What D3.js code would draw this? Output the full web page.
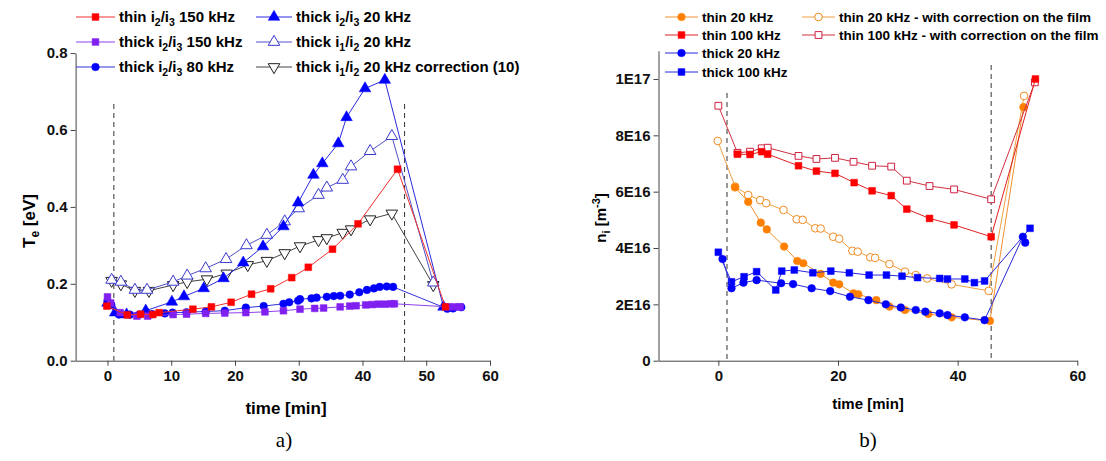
<!DOCTYPE html>
<meta charset="utf-8">
<head>
  <title>Te and ni vs time</title>
</head>
<style>
  body { margin: 0; background: #fff; }
  text { font-family: "Liberation Sans", Arial, sans-serif; font-weight: bold; }
</style>
<body>
<svg width="1106" height="461"></svg>
<script src="https://cdn.jsdelivr.net/npm/d3@7"></script>
<script>
// ---- chart a) : electron temperature ----
var aTicksX = [0, 10, 20, 30, 40, 50, 60];
var aTicksY = [0, 0.2, 0.4, 0.6, 0.8];

var thinI2I3_150_t = [-0.1, 3.1, 5.2, 7.1, 8.1, 13.4, 16.3, 19.4, 22.6, 25.6, 28.9, 31.5, 35.3, 39.3, 45.5, 53.0];
var thinI2I3_150_v = [0.142, 0.119, 0.121, 0.12, 0.125, 0.134, 0.14, 0.152, 0.173, 0.187, 0.216, 0.243, 0.29, 0.356, 0.498, 0.14];

var thickI2I3_150_t = [0, 0.5, 2, 4.6, 6.3, 10.3, 12.4, 15.4, 18.4, 21.7, 24.7, 27.6, 30.2, 32.5, 33.9, 36.5, 38, 39, 40.5, 41.5, 42.5, 43.5, 44.5, 45, 53.5, 54.5, 55.3];
var thickI2I3_150_v = [0.166, 0.15, 0.125, 0.116, 0.116, 0.12, 0.121, 0.123, 0.124, 0.125, 0.127, 0.13, 0.134, 0.136, 0.137, 0.14, 0.142, 0.143, 0.145, 0.146, 0.147, 0.147, 0.148, 0.148, 0.14, 0.14, 0.14];

var thickI2I3_80_t = [0, 0.6, 1.8, 3.5, 5, 7, 9, 10.2, 12.4, 15.4, 18.4, 21.7, 24.5, 27.6, 28.5, 29.9, 30.2, 32, 32.8, 34.4, 35.5, 36.5, 38, 39.5, 40.7, 41.8, 42.7, 43.8, 44.8, 53.3, 54.2, 55.5];
var thickI2I3_80_v = [0.155, 0.145, 0.12, 0.12, 0.12, 0.121, 0.123, 0.125, 0.126, 0.128, 0.13, 0.138, 0.142, 0.148, 0.152, 0.156, 0.16, 0.162, 0.164, 0.166, 0.168, 0.169, 0.172, 0.178, 0.184, 0.188, 0.192, 0.193, 0.192, 0.135, 0.136, 0.139];

var thickI2I3_20_t = [0, 1.2, 3, 6.0, 10.1, 12.0, 15.1, 18.2, 21.3, 24.4, 27.6, 29.9, 32.3, 33.7, 36.2, 37.5, 40.4, 43.5, 52.7];
var thickI2I3_20_v = [0.15, 0.125, 0.12, 0.13, 0.153, 0.167, 0.188, 0.214, 0.255, 0.297, 0.349, 0.411, 0.483, 0.513, 0.565, 0.633, 0.708, 0.73, 0.14];

var thickI1I2_20_t = [0.65, 2.1, 4.3, 6.2, 10.3, 12.5, 15.4, 18.6, 21.8, 25, 27.8, 30.0, 33.1, 34.4, 36.9, 38.2, 41.2, 44.6, 51.1];
var thickI1I2_20_v = [0.21, 0.205, 0.184, 0.184, 0.205, 0.221, 0.24, 0.264, 0.3, 0.327, 0.362, 0.396, 0.431, 0.45, 0.47, 0.505, 0.545, 0.584, 0.203];

var thickI1I2_corr_t = [0.65, 2.1, 4.3, 6.5, 10.3, 12.5, 15.6, 18.7, 22, 25, 27.8, 30.2, 33.1, 34.4, 36.9, 38.2, 41.2, 44.6, 51.1];
var thickI1I2_corr_v = [0.208, 0.199, 0.182, 0.182, 0.197, 0.205, 0.212, 0.227, 0.249, 0.26, 0.28, 0.298, 0.314, 0.319, 0.333, 0.342, 0.368, 0.383, 0.197];

var aDashed = [1.0, 46.6];

// ---- chart b) : ion density (values in 1E16 m^-3) ----
var bTicksX = [0, 20, 40, 60];
var bTicksY = [0, 2, 4, 6, 8, 10];
var bTickLabelsY = ["0", "2E16", "4E16", "6E16", "8E16", "1E17"];

var thin20_t = [2.8, 5.0, 7.1, 8.1, 11.0, 13.2, 14.2, 17.1, 19.2, 20.2, 22.6, 23.4, 26.4, 28.6, 31.2, 35.1, 39.0, 45.4, 51.0];
var thin20_v = [6.15, 5.64, 4.9, 4.66, 4.05, 3.54, 3.46, 3.08, 2.77, 2.71, 2.39, 2.36, 2.15, 1.92, 1.8, 1.66, 1.54, 1.41, 9.0];

var thin100_t = [3.2, 5.3, 7.25, 8.25, 13.4, 16.4, 19.5, 22.7, 25.7, 28.9, 31.5, 35.3, 39.4, 45.6, 53.0];
var thin100_v = [7.33, 7.32, 7.42, 7.33, 6.92, 6.73, 6.65, 6.32, 6.03, 5.86, 5.38, 5.05, 4.82, 4.4, 10.0];

var thick20_t = [0.7, 2.2, 4.2, 6.4, 10.5, 12.5, 15.6, 18.7, 22, 25.1, 28, 30.5, 33, 34.6, 37, 38.3, 41.2, 44.5, 50.9, 51.3];
var thick20_v = [3.61, 2.57, 2.77, 2.86, 2.75, 2.72, 2.57, 2.47, 2.27, 2.15, 2.0, 1.89, 1.8, 1.74, 1.68, 1.62, 1.54, 1.44, 4.4, 4.19];

var thick100_t = [0, 2.2, 4.3, 6.4, 9.6, 10.6, 12.7, 15.8, 18.8, 21.9, 25.2, 28.1, 30.7, 33.3, 37, 38.3, 41.2, 42.8, 44.5, 52.1];
var thick100_v = [3.85, 2.8, 2.98, 3.16, 2.51, 3.18, 3.22, 3.12, 3.18, 3.12, 3.04, 3.04, 3.0, 2.95, 2.92, 2.9, 2.9, 2.77, 2.83, 4.7];

var thin20corr_t = [-0.1, 2.8, 5.0, 7.0, 8.0, 10.9, 13.1, 14.1, 16.2, 17.1, 19.2, 20.2, 22.4, 23.3, 25.4, 26.2, 28.6, 31.2, 33.0, 34.9, 39.0, 45.2, 51.1];
var thin20corr_v = [7.8, 6.18, 5.88, 5.7, 5.59, 5.35, 5.02, 5.0, 4.7, 4.69, 4.4, 4.33, 3.9, 3.87, 3.67, 3.65, 3.43, 3.16, 3.04, 2.92, 2.71, 2.48, 9.4];

var thin100corr_t = [0, 3.2, 5.3, 7.25, 8.25, 13.4, 16.4, 19.5, 22.6, 25.7, 28.9, 31.5, 35.3, 39.4, 45.6, 52.9];
var thin100corr_v = [9.05, 7.38, 7.42, 7.54, 7.56, 7.27, 7.16, 7.2, 7.06, 6.92, 6.89, 6.39, 6.2, 6.08, 5.73, 9.88];

var bDashed = [1.45, 45.6];

var svg = d3.select("svg");

function zip(t, v) {
  return t.map(function(d, i) { return [d, v[i]]; });
}

function symbolFor(shape) {
  if (shape == "square") return d3.symbol().type(d3.symbolSquare).size(46);
  if (shape == "circle") return d3.symbol().type(d3.symbolCircle).size(46);
  return d3.symbol().type(d3.symbolTriangle).size(58);
}

function drawSeries(g, x, y, s) {
  var pts = zip(s.t, s.v);
  var line = d3.line().x(function(d) { return x(d[0]); }).y(function(d) { return y(d[1]); });
  g.append("path")
    .attr("d", line(pts))
    .style("fill", "none")
    .style("stroke", s.line)
    .style("stroke-width", 1);
  g.selectAll(null)
    .data(pts)
    .enter()
    .append("path")
    .attr("d", symbolFor(s.shape)())
    .attr("transform", function(d) {
      return "translate(" + x(d[0]) + "," + y(d[1]) + ")" + (s.shape == "down" ? " rotate(180)" : "");
    })
    .style("fill", s.open ? "#fff" : s.color)
    .style("stroke", s.color)
    .style("stroke-width", s.open ? 1 : 0.5);
}

function drawLegendItem(g, s, x0, x1, y0, label) {
  g.append("line").attr("x1", x0).attr("x2", x1).attr("y1", y0).attr("y2", y0)
    .style("stroke", s.line).style("stroke-width", 1);
  g.append("path")
    .attr("d", symbolFor(s.shape)())
    .attr("transform", "translate(" + ((x0 + x1) / 2) + "," + y0 + ")" + (s.shape == "down" ? " rotate(180)" : ""))
    .style("fill", s.open ? "#fff" : s.color)
    .style("stroke", s.color)
    .style("stroke-width", s.open ? 1 : 0.5);
  var t = g.append("text").attr("x", x1 + 4).attr("y", y0 + 5).style("font-size", label.size + "px");
  var lowered = false;
  label.parts.forEach(function(p) {
    if (p.sub) {
      t.append("tspan").attr("dy", lowered ? 0 : 4).style("font-size", (label.size * 0.7) + "px").text(p.sub);
      lowered = true;
    } else {
      t.append("tspan").attr("dy", lowered ? -4 : 0).text(p.txt);
      lowered = false;
    }
  });
}

function drawAxes(g, x, y, xTicks, xMinor, yTicks, yMinor, yFmt) {
  var xr = x.range(), yr = y.range();
  var ax = g.append("g").attr("transform", "translate(0," + yr[0] + ")");
  ax.call(d3.axisBottom(x).tickValues(xMinor).tickSize(3).tickFormat(""));
  ax.call(d3.axisBottom(x).tickValues(xTicks).tickSize(5).tickSizeOuter(0).tickPadding(5));
  var ay = g.append("g").attr("transform", "translate(" + xr[0] + ",0)");
  ay.call(d3.axisLeft(y).tickValues(yMinor).tickSize(3).tickFormat(""));
  ay.call(d3.axisLeft(y).tickValues(yTicks).tickSize(5).tickSizeOuter(0).tickPadding(3).tickFormat(yFmt));
  g.selectAll(".domain").style("stroke", "#444");
  g.selectAll(".tick line").style("stroke", "#444");
  g.selectAll(".tick text").style("font-family", "'Liberation Sans', Arial, sans-serif")
    .style("font-weight", "bold").style("font-size", "15px").style("fill", "#111");
}

// ================= chart a =================
var xa = d3.scaleLinear().domain([-5, 60]).range([75.6, 490]);
var ya = d3.scaleLinear().domain([0, 0.8]).range([360.7, 53.1]);
var ga = svg.append("g");

drawAxes(ga, xa, ya, aTicksX, [-5, 5, 15, 25, 35, 45, 55], aTicksY, [0.1, 0.3, 0.5, 0.7], d3.format(".1f"));

aDashed.forEach(function(d) {
  ga.append("line").attr("x1", xa(d)).attr("x2", xa(d)).attr("y1", 104).attr("y2", ya(0))
    .style("stroke", "#333").style("stroke-dasharray", "5,4").style("stroke-width", 1);
});

var aSeries = [
  { t: thickI1I2_corr_t, v: thickI1I2_corr_v, shape: "down", open: true, color: "#222", line: "#444" },
  { t: thickI1I2_20_t, v: thickI1I2_20_v, shape: "triangle", open: true, color: "#3a3ad0", line: "#5050c8" },
  { t: thickI2I3_20_t, v: thickI2I3_20_v, shape: "triangle", open: false, color: "#0000ff", line: "#2a2ae0" },
  { t: thickI2I3_80_t, v: thickI2I3_80_v, shape: "circle", open: false, color: "#0000ff", line: "#3030d8" },
  { t: thickI2I3_150_t, v: thickI2I3_150_v, shape: "square", open: false, color: "#8020f0", line: "#9040f0" },
  { t: thinI2I3_150_t, v: thinI2I3_150_v, shape: "square", open: false, color: "#ff0000", line: "#f03030" }
];
aSeries.forEach(function(s) { drawSeries(ga, xa, ya, s); });

var lz = 15;
drawLegendItem(ga, aSeries[5], 76, 115, 17, { size: lz, parts: [{ txt: "thin i" }, { sub: "2" }, { txt: "/i" }, { sub: "3" }, { txt: " 150 kHz" }] });
drawLegendItem(ga, aSeries[4], 76, 115, 42, { size: lz, parts: [{ txt: "thick i" }, { sub: "2" }, { txt: "/i" }, { sub: "3" }, { txt: " 150 kHz" }] });
drawLegendItem(ga, aSeries[3], 76, 115, 67, { size: lz, parts: [{ txt: "thick i" }, { sub: "2" }, { txt: "/i" }, { sub: "3" }, { txt: " 80 kHz" }] });
drawLegendItem(ga, aSeries[2], 256, 292, 17, { size: lz, parts: [{ txt: "thick i" }, { sub: "2" }, { txt: "/i" }, { sub: "3" }, { txt: " 20 kHz" }] });
drawLegendItem(ga, aSeries[1], 256, 292, 42, { size: lz, parts: [{ txt: "thick i" }, { sub: "1" }, { txt: "/i" }, { sub: "2" }, { txt: " 20 kHz" }] });
drawLegendItem(ga, aSeries[0], 256, 292, 67, { size: lz, parts: [{ txt: "thick i" }, { sub: "1" }, { txt: "/i" }, { sub: "2" }, { txt: " 20 kHz correction (10)" }] });

var yla = ga.append("text").attr("transform", "translate(35,221) rotate(-90)")
  .attr("text-anchor", "middle").style("font-size", "17px");
yla.append("tspan").text("T");
yla.append("tspan").attr("dy", 4).style("font-size", "12px").text("e");
yla.append("tspan").attr("dy", -4).text(" [eV]");

ga.append("text").attr("x", 286).attr("y", 414).attr("text-anchor", "middle")
  .style("font-size", "17px").text("time [min]");
ga.append("text").attr("x", 284).attr("y", 447).attr("text-anchor", "middle")
  .style("font-family", "'Liberation Serif', 'DejaVu Serif', serif").style("font-weight", "normal")
  .style("font-size", "21px").text("a)");

// ================= chart b =================
var xb = d3.scaleLinear().domain([-10, 60]).range([658.5, 1077.3]);
var yb = d3.scaleLinear().domain([0, 11]).range([360.7, 50.8]);
var gb = svg.append("g");

drawAxes(gb, xb, yb, bTicksX, [-10, 10, 30, 50], bTicksY, [1, 3, 5, 7, 9, 11], function(d, i) { return bTickLabelsY[i]; });

bDashed.forEach(function(d, i) {
  gb.append("line").attr("x1", xb(d)).attr("x2", xb(d)).attr("y1", i == 0 ? 93 : 65).attr("y2", yb(0))
    .style("stroke", "#333").style("stroke-dasharray", "5,4").style("stroke-width", 1);
});

var bSeries = [
  { t: thin20corr_t, v: thin20corr_v, shape: "circle", open: true, color: "#f08a20", line: "#f0a040" },
  { t: thin20_t, v: thin20_v, shape: "circle", open: false, color: "#ff8000", line: "#f09030" },
  { t: thin100corr_t, v: thin100corr_v, shape: "square", open: true, color: "#d02040", line: "#d03040" },
  { t: thin100_t, v: thin100_v, shape: "square", open: false, color: "#ff0000", line: "#e02020" },
  { t: thick100_t, v: thick100_v, shape: "square", open: false, color: "#0000ff", line: "#2828d8" },
  { t: thick20_t, v: thick20_v, shape: "circle", open: false, color: "#0000ff", line: "#2828d8" }
];
bSeries.forEach(function(s) { drawSeries(gb, xb, yb, s); });

var lb = 13.5;
drawLegendItem(gb, bSeries[1], 665, 698, 17, { size: lb, parts: [{ txt: "thin 20 kHz" }] });
drawLegendItem(gb, bSeries[3], 665, 698, 35, { size: lb, parts: [{ txt: "thin 100 kHz" }] });
drawLegendItem(gb, bSeries[5], 665, 698, 53, { size: lb, parts: [{ txt: "thick 20 kHz" }] });
drawLegendItem(gb, bSeries[4], 665, 698, 72, { size: lb, parts: [{ txt: "thick 100 kHz" }] });
drawLegendItem(gb, bSeries[0], 802, 835, 17, { size: lb, parts: [{ txt: "thin 20 kHz - with correction on the film" }] });
drawLegendItem(gb, bSeries[2], 802, 835, 35, { size: lb, parts: [{ txt: "thin 100 kHz - with correction on the film" }] });

var ylb = gb.append("text").attr("transform", "translate(606,218) rotate(-90)")
  .attr("text-anchor", "middle").style("font-size", "15px");
ylb.append("tspan").text("n");
ylb.append("tspan").attr("dy", 4).style("font-size", "11px").text("i");
ylb.append("tspan").attr("dy", -4).text(" [m");
ylb.append("tspan").attr("dy", -6).style("font-size", "11px").text("-3");
ylb.append("tspan").attr("dy", 6).text("]");

gb.append("text").attr("x", 868).attr("y", 409).attr("text-anchor", "middle")
  .style("font-size", "15px").text("time [min]");
gb.append("text").attr("x", 868).attr("y", 447).attr("text-anchor", "middle")
  .style("font-family", "'Liberation Serif', 'DejaVu Serif', serif").style("font-weight", "normal")
  .style("font-size", "21px").text("b)");
</script>
</body>
</html>
